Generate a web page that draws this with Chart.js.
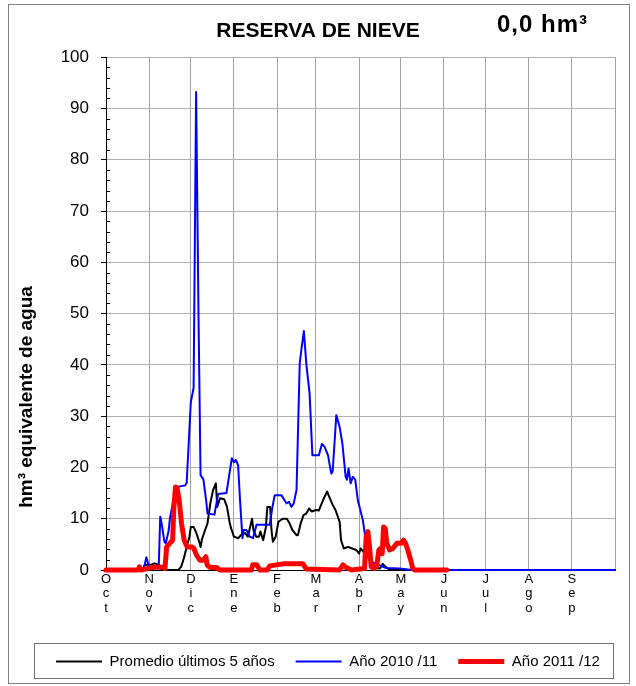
<!DOCTYPE html>
<html><head><meta charset="utf-8">
<script src="https://cdn.jsdelivr.net/npm/chart.js@4.4.1/dist/chart.umd.min.js"></script>
<style>html,body{margin:0;padding:0;background:#fff;}canvas{display:block;}</style>
</head><body>
<canvas id="c" width="636" height="686"></canvas>
<script>
// x axis: days since 1 October
const monthTicks = [0,31,61,92,123,151,182,212,243,273,304,335,366];
const monthLabels = [['O','c','t'],['N','o','v'],['D','i','c'],['E','n','e'],['F','e','b'],['M','a','r'],['A','b','r'],['M','a','y'],['J','u','n'],['J','u','l'],['A','g','o'],['S','e','p'],''];
const yMin = 0, yMax = 100, yStep = 10, yMinorStep = 2;
const titleText = 'RESERVA DE NIEVE';
const currentValue = '0,0 hm³';
const yTitle = 'hm³ equivalente de agua';
const seriesNames = ['Promedio últimos 5 años','Año 2010 /11','Año 2011 /12'];

const promedioX = [0,26,28,32,35,38,40,52,54,56,58,60,61,63,65,67,68,69,71,73,75,77,79,80,82,85,87,89,90,92,95,97,100,102,105,106,108,110,111,113,115,116,118,119,120,122,124,127,130,132,134,137,138,140,142,144,146,148,151,153,156,159,160,163,165,168,169,171,174,177,180,182,183,185,187,189,192,194,197,199,201,204,366];
const promedioY = [0,0,1,1,1.3,1,0,0,0.6,2.3,4.5,6.5,8.4,8.4,7.2,5.5,4.5,6,7.6,9.1,13,15.6,16.9,12.3,14,13.8,12.3,9.1,8.1,6.5,6.2,6.8,7.2,6.5,10,7.8,6.5,6.5,7.5,5.8,8.4,12.3,12.3,7.8,5.5,6.5,9.4,10,10,9.1,7.8,6.8,6.8,9.1,10.7,11,12,11.4,11.7,11.6,13.6,15.3,14.6,12.7,11.7,9.4,5.8,4.2,4.5,4.2,3.9,3.2,4.2,3.6,2.9,2.3,1,0.4,0.3,1.2,0.6,0,0];

const a2010X = [0,27,29,31,37,38,39,40,42,43,45,46,48,49.5,51,57,58,61,63,64.8,66.5,68,70,72,73,78,80.6,86.6,90.5,92,93.3,95,96.3,98.1,99,101,103.4,105.7,108.2,117.7,119.7,121.3,126.1,129.7,131.6,133.3,135,137,139.3,140.5,142.3,144,146.4,148.4,153.1,155.3,157.2,159.6,162,163,165.6,168,170,172.3,173.2,174.4,175.9,177.5,179.2,181.1,184.7,187.1,189.5,193.1,201.5,211,220.4,366];
const a2010Y = [0,0,2.5,0.6,0.6,1.3,10.4,9.1,5.5,5.2,7.6,10.1,13,15.3,16.2,16.5,17,32.8,35.5,93.2,50,18.5,17.7,13.6,11,10.8,14.8,15,21.8,21,21.5,20.4,14,6.2,7.8,7.8,6.5,6.2,8.8,8.8,12.3,14.6,14.6,13,13.3,12.3,13,15.6,40.3,43,46.6,40.3,34.4,22.4,22.4,24.6,24,22.4,18.8,19.2,30.2,27.9,24.6,18.2,17.6,19.8,16.9,18.2,17.6,13.6,9.7,5.2,1.9,1.3,0.4,0.3,0,0];

const a2011X = [0,23,24,25,30,33,38,42,42.4,43.6,45.9,47.9,48.8,50,51.2,52.6,54.3,56.2,58.4,61.5,63.2,65.1,67.5,69.8,71.8,72.7,74.7,79.5,81.8,104.5,105.5,108.4,110.6,116,117.7,127.3,141.6,144,168,170.4,172,176.4,185.9,187.1,188.3,189.5,190.7,193.1,194.8,196.2,197.4,198.6,199.6,200.8,201.9,203.9,206.2,209.1,212.3,213.9,215.4,217,218.7,220.6,222,245];
const a2011Y = [0,0,0.6,0,0.3,0.5,0.6,0.5,0.3,4.5,5.2,5.8,12.3,16.2,15.9,13.6,9.1,5.8,4.5,4.5,4.2,2.9,1.9,1.9,2.6,1,0.5,0.5,0,0,1,1,0,0,0.8,1.2,1.2,0.2,0,1,0.6,0,0.3,6.5,7.5,4.5,0.6,0.3,1,3.9,4.2,3.2,8.4,8.1,5.2,3.9,4.2,5.2,5.2,5.8,5.2,3.9,2.3,0.3,0,0];

const pts = (xs, ys) => xs.map((x, i) => ({x, y: ys[i]}));
const FONT = "'Liberation Sans', Arial, Helvetica, sans-serif";
Chart.defaults.font.family = FONT;
Chart.defaults.color = '#000';

const decor = {
  id: 'decor',
  beforeDraw(chart) {
    const ctx = chart.ctx;
    ctx.save(); ctx.fillStyle = '#fff'; ctx.fillRect(0, 0, chart.width, chart.height); ctx.restore();
  },
  afterLayout(chart) {
    if (chart.legend) { chart.legend.left += 10; chart.legend.right += 10; }
  },
  beforeDatasetsDraw(chart) {
    const ctx = chart.ctx, ys = chart.scales.y, left = chart.chartArea.left;
    ctx.save(); ctx.strokeStyle = '#000'; ctx.lineWidth = 1; ctx.beginPath();
    for (let v = yMin + yMinorStep; v < yMax; v += yMinorStep) {
      if (v % yStep === 0) continue;
      const y = Math.round(ys.getPixelForValue(v)) + 0.5;
      ctx.moveTo(left, y); ctx.lineTo(left + 4, y);
    }
    ctx.stroke(); ctx.restore();
  },
  afterDraw(chart) {
    const ctx = chart.ctx;
    ctx.save();
    // outer frame
    ctx.strokeStyle = '#808080'; ctx.lineWidth = 1;
    ctx.strokeRect(8.5, 4.5, 621, 679);
    // legend frame
    const lg = chart.legend;
    if (lg && lg.legendHitBoxes && lg.legendHitBoxes.length) {
      const hb = lg.legendHitBoxes, last = hb[hb.length - 1];
      const x0 = Math.round(hb[0].left - 22) + 0.5, x1 = Math.round(last.left + last.width + 13) + 0.5;
      const y0 = Math.round(lg.top + 10) + 0.5, y1 = Math.round(lg.bottom - 1) + 0.5;
      ctx.strokeStyle = '#707070';
      ctx.strokeRect(x0, y0, x1 - x0, y1 - y0);
    }
    // current value
    ctx.fillStyle = '#000';
    ctx.font = 'bold 24px ' + FONT;
    try { ctx.letterSpacing = '1px'; } catch (e) {}
    ctx.textAlign = 'left'; ctx.textBaseline = 'middle';
    ctx.fillText(currentValue, 497, 25);
    try { ctx.letterSpacing = '0px'; } catch (e) {}
    // y title
    ctx.translate(27, 397); ctx.rotate(-Math.PI / 2);
    ctx.font = 'bold 19px ' + FONT;
    ctx.textAlign = 'center';
    ctx.fillText(yTitle, 0, 0);
    ctx.restore();
  }
};

new Chart(document.getElementById('c'), {
  type: 'line',
  data: {
    datasets: [
      {label: seriesNames[0], data: pts(promedioX, promedioY), borderColor: '#000000', backgroundColor: '#000000', borderWidth: 2, pointBorderWidth: 2, pointBorderColor: '#000000', order: 2},
      {label: seriesNames[1], data: pts(a2010X, a2010Y), borderColor: '#0000ff', backgroundColor: '#0000ff', borderWidth: 2, pointBorderWidth: 2, pointBorderColor: '#0000ff', order: 1},
      {label: seriesNames[2], data: pts(a2011X, a2011Y), borderColor: '#ff0000', backgroundColor: '#ff0000', borderWidth: 5, pointBorderWidth: 5, pointBorderColor: '#ff0000', order: 0}
    ]
  },
  options: {
    responsive: false,
    animation: false,
    devicePixelRatio: 1,
    layout: {padding: {left: 0, right: 0, top: 0, bottom: 7}},
    elements: {point: {radius: 0, hoverRadius: 0}, line: {tension: 0, borderJoinStyle: 'round', borderCapStyle: 'round', fill: false}},
    datasets: {line: {clip: false}},
    scales: {
      x: {
        type: 'linear', min: 0, max: 366,
        afterBuildTicks(s) { s.ticks = monthTicks.map(v => ({value: v})); },
        afterFit(s) { s.height = 63; s.paddingRight = 21; },
        ticks: {autoSkip: false, maxRotation: 0, padding: 2, font: {size: 13, lineHeight: 1.12}, color: '#000',
          callback: (v, i) => monthLabels[i]},
        grid: {color: '#a0a0a0', drawTicks: false},
        border: {color: '#000', width: 1}
      },
      y: {
        min: yMin, max: yMax,
        afterFit(s) { s.width = 106; },
        ticks: {stepSize: yStep, padding: 12, font: {size: 17}, color: '#000'},
        grid: {color: '#b0b0b0', tickColor: '#000', tickLength: 5},
        border: {color: '#000', width: 1}
      }
    },
    plugins: {
      title: {display: true, text: titleText, color: '#000', font: {size: 21, weight: 'bold'}, padding: {top: 19, bottom: 13}},
      legend: {display: true, position: 'bottom',
        labels: {usePointStyle: true, pointStyle: 'line', pointStyleWidth: 46, padding: 21, color: '#000', font: {size: 15},
          sort: (a, b) => a.datasetIndex - b.datasetIndex}},
      tooltip: {enabled: false}
    }
  },
  plugins: [decor]
});
</script>
</body></html>
